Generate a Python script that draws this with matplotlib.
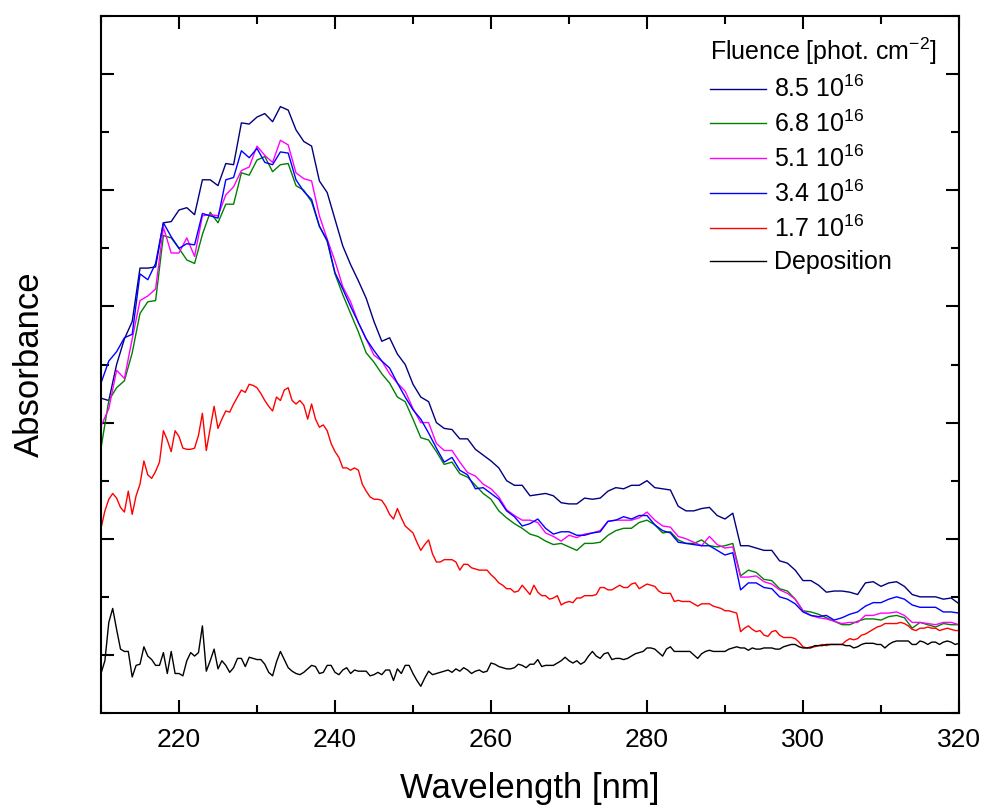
import numpy as np
import matplotlib
matplotlib.use("Agg")
import matplotlib.pyplot as plt
from matplotlib.ticker import MultipleLocator

plt.rcParams["font.family"] = ["Liberation Sans", "DejaVu Sans"]
plt.rcParams["mathtext.fontset"] = "custom"
plt.rcParams["mathtext.rm"] = "Liberation Sans"
plt.rcParams["mathtext.it"] = "Liberation Sans:italic"
plt.rcParams["mathtext.bf"] = "Liberation Sans:bold"

# Wavelength grids (nm); absorbance spectra in milli-absorbance units
wavelength = np.arange(210, 321)            # 1 nm step
wavelength_fine = np.arange(210, 320.5, 0.5)  # 0.5 nm step

abs_85 = [221, 219, 250, 272, 287, 333, 333, 334, 372, 373,
          383, 385, 379, 409, 409, 404, 423, 422, 458, 457,
          463, 466, 459, 472, 469, 452, 442, 438, 408, 398,
          375, 352, 336, 322, 307, 287, 270, 273, 259, 250,
          233, 222, 218, 200, 195, 194, 186, 186, 177, 172,
          167, 161, 150, 146, 146, 137, 138, 139, 137, 131,
          130, 130, 135, 134, 135, 141, 144, 143, 146, 146,
          150, 144, 143, 142, 128, 124, 124, 126, 127, 120,
          117, 122, 94, 94, 92, 90, 90, 81, 79, 73,
          64, 64, 60, 54, 55, 55, 54, 52, 62, 63,
          59, 62, 63, 59, 52, 50, 50, 50, 48, 49,
          44]

abs_68 = [178, 219, 230, 236, 260, 294, 304, 305, 361, 359,
          350, 340, 337, 362, 381, 372, 388, 388, 415, 413,
          426, 429, 416, 422, 423, 404, 400, 390, 369, 356,
          328, 310, 294, 278, 260, 252, 242, 234, 222, 218,
          203, 187, 185, 175, 164, 166, 156, 153, 146, 139,
          134, 124, 118, 113, 109, 104, 102, 98, 95, 96,
          93, 90, 96, 96, 97, 103, 107, 109, 109, 114,
          116, 112, 105, 106, 99, 96, 96, 99, 94, 93,
          94, 96, 68, 73, 71, 65, 64, 57, 55, 48,
          38, 37, 35, 32, 29, 26, 26, 29, 31, 31,
          30, 33, 34, 32, 23, 28, 26, 24, 27, 26,
          26]

abs_51 = [197, 212, 245, 238, 272, 305, 309, 315, 368, 346,
          346, 359, 343, 378, 379, 378, 396, 403, 417, 420,
          438, 430, 424, 443, 439, 415, 410, 408, 378, 358,
          339, 317, 304, 286, 272, 258, 253, 242, 234, 227,
          212, 200, 200, 182, 176, 176, 166, 157, 154, 147,
          143, 136, 125, 120, 116, 116, 114, 105, 102, 98,
          103, 101, 104, 105, 107, 115, 116, 116, 116, 118,
          123, 116, 111, 110, 102, 100, 97, 94, 102, 95,
          92, 93, 67, 67, 68, 63, 61, 56, 53, 48,
          38, 34, 32, 31, 29, 27, 28, 28, 34, 34,
          36, 36, 37, 34, 28, 28, 27, 26, 28, 28,
          26]

abs_34 = [234, 253, 261, 273, 276, 328, 323, 337, 372, 360,
          350, 354, 353, 380, 378, 376, 409, 411, 434, 428,
          436, 424, 422, 433, 432, 409, 399, 392, 369, 357,
          329, 315, 300, 286, 272, 262, 253, 247, 234, 222,
          211, 203, 191, 178, 166, 170, 159, 155, 143, 144,
          139, 134, 124, 119, 111, 113, 117, 109, 104, 106,
          106, 103, 103, 105, 106, 115, 116, 119, 117, 120,
          120, 112, 107, 105, 97, 96, 95, 94, 94, 90,
          86, 88, 56, 62, 62, 58, 57, 50, 48, 44,
          37, 34, 33, 34, 30, 32, 35, 37, 42, 45,
          45, 48, 50, 48, 43, 41, 41, 41, 37, 37,
          36]

abs_17 = [109, 124, 134, 139, 135, 127, 123, 141, 121, 137,
          147, 167, 155, 152, 158, 166, 193, 185, 175, 193,
          188, 178, 177, 177, 178, 189, 208, 176, 195, 214,
          195, 203, 210, 209, 216, 222, 228, 226, 233, 232,
          230, 225, 219, 214, 210, 222, 219, 228, 230, 219,
          216, 219, 215, 203, 216, 203, 196, 198, 193, 182,
          175, 170, 161, 161, 159, 161, 159, 147, 141, 136,
          134, 134, 133, 128, 121, 117, 126, 118, 111, 108,
          105, 97, 90, 95, 99, 87, 80, 80, 82, 82,
          82, 80, 73, 78, 78, 75, 74, 73, 73, 73,
          69, 66, 62, 60, 57, 57, 54, 55, 60, 56,
          52, 60, 54, 51, 51, 48, 49, 51, 43, 45,
          46, 45, 49, 49, 51, 51, 51, 52, 58, 58,
          56, 56, 58, 60, 58, 58, 61, 62, 57, 59,
          61, 60, 59, 55, 53, 53, 53, 46, 47, 46,
          46, 46, 44, 42, 44, 44, 44, 42, 41, 40,
          38, 38, 37, 36, 20, 23, 25, 22, 20, 21,
          17, 16, 20, 21, 17, 15, 15, 15, 14, 11,
          7, 6, 7, 7, 8, 9, 8, 9, 9, 9,
          9, 12, 14, 13, 14, 17, 18, 20, 22, 24,
          25, 27, 27, 27, 27, 28, 27, 25, 22, 21,
          23, 23, 24, 23, 23, 21, 22, 23, 22, 21,
          21]

abs_dep = [-16, -5, 28, 40, 22, 5, 3, 3, -19, -9,
           -8, 7, -1, -4, -9, -9, 2, -16, 3, -16,
           -16, -18, -5, 2, -1, 2, 25, -14, -5, 5,
           -12, -5, -9, -15, -11, -3, -3, -10, -2, -3,
           -4, -4, -8, -15, -18, -6, 3, -4, -11, -14,
           -16, -17, -15, -12, -9, -10, -16, -15, -9, -9,
           -15, -17, -13, -11, -16, -13, -14, -14, -14, -18,
           -17, -15, -17, -13, -13, -22, -12, -16, -9, -9,
           -16, -22, -27, -20, -14, -17, -16, -15, -14, -13,
           -15, -12, -14, -11, -13, -16, -14, -13, -15, -14,
           -7, -8, -10, -11, -12, -12, -11, -8, -9, -11,
           -8, -8, -4, -10, -9, -9, -9, -7, -5, -2,
           -5, -7, -5, -8, -6, -1, 3, -1, -3, 1,
           2, -4, -3, -3, -4, -3, -1, 1, 2, 3,
           6, 6, 5, 2, -1, 5, 7, 3, 3, 3,
           3, 3, 0, -3, 1, 3, 4, 3, 3, 3,
           3, 5, 6, 7, 6, 6, 4, 6, 5, 5,
           6, 6, 6, 5, 5, 7, 8, 9, 9, 7,
           6, 6, 6, 8, 8, 8, 9, 9, 9, 9,
           9, 8, 8, 6, 7, 9, 10, 10, 10, 9,
           9, 6, 9, 11, 12, 12, 12, 12, 9, 9,
           12, 11, 9, 11, 11, 9, 11, 12, 11, 9,
           10]

labels = ["8.5 10$^{16}$", "6.8 10$^{16}$", "5.1 10$^{16}$",
          "3.4 10$^{16}$", "1.7 10$^{16}$", "Deposition"]
colors = ["#000080", "#008000", "#FF00FF", "#0000FF", "#FF0000", "#000000"]
spectra = [(wavelength, abs_85), (wavelength, abs_68), (wavelength, abs_51),
           (wavelength, abs_34), (wavelength_fine, abs_17),
           (wavelength_fine, abs_dep)]

fig = plt.figure(figsize=(9.86, 8.10), dpi=100)
ax = fig.add_axes([0.10243, 0.11975, 0.87018, 0.86049])

handles = []
for lab, col, (wl, spec) in zip(labels, colors, spectra):
    h, = ax.plot(wl, spec, color=col, lw=1.0, label=lab)
    handles.append(h)

ax.set_xlim(210, 320)
ax.set_ylim(-50, 550)

ax.xaxis.set_major_locator(MultipleLocator(20))
ax.xaxis.set_minor_locator(MultipleLocator(10))
ax.yaxis.set_major_locator(MultipleLocator(100))
ax.yaxis.set_minor_locator(MultipleLocator(50))
ax.tick_params(which="both", direction="in", top=True, right=True,
               width=1.5, labelsize=19, pad=11)
ax.tick_params(which="major", length=9.5)
ax.tick_params(which="minor", length=5.5)
ax.tick_params(axis="y", labelleft=False)
for sp in ax.spines.values():
    sp.set_linewidth(1.5)

ax.set_xlabel("Wavelength [nm]", fontsize=25)
ax.set_ylabel("Absorbance", fontsize=25)
ax.xaxis.set_label_coords(0.5, -0.085)
ax.yaxis.set_label_coords(-0.064, 0.5)

leg = ax.legend(handles, labels, title="Fluence [phot. cm$^{-2}$]",
                loc="upper left", bbox_to_anchor=(0.7201, 0.9556),
                bbox_transform=fig.transFigure, frameon=False,
                fontsize=18, title_fontsize=18, handlelength=2.25,
                handletextpad=0.32, labelspacing=0.34, borderpad=0,
                borderaxespad=0, alignment="left")

fig.savefig("out.png", dpi=100)
